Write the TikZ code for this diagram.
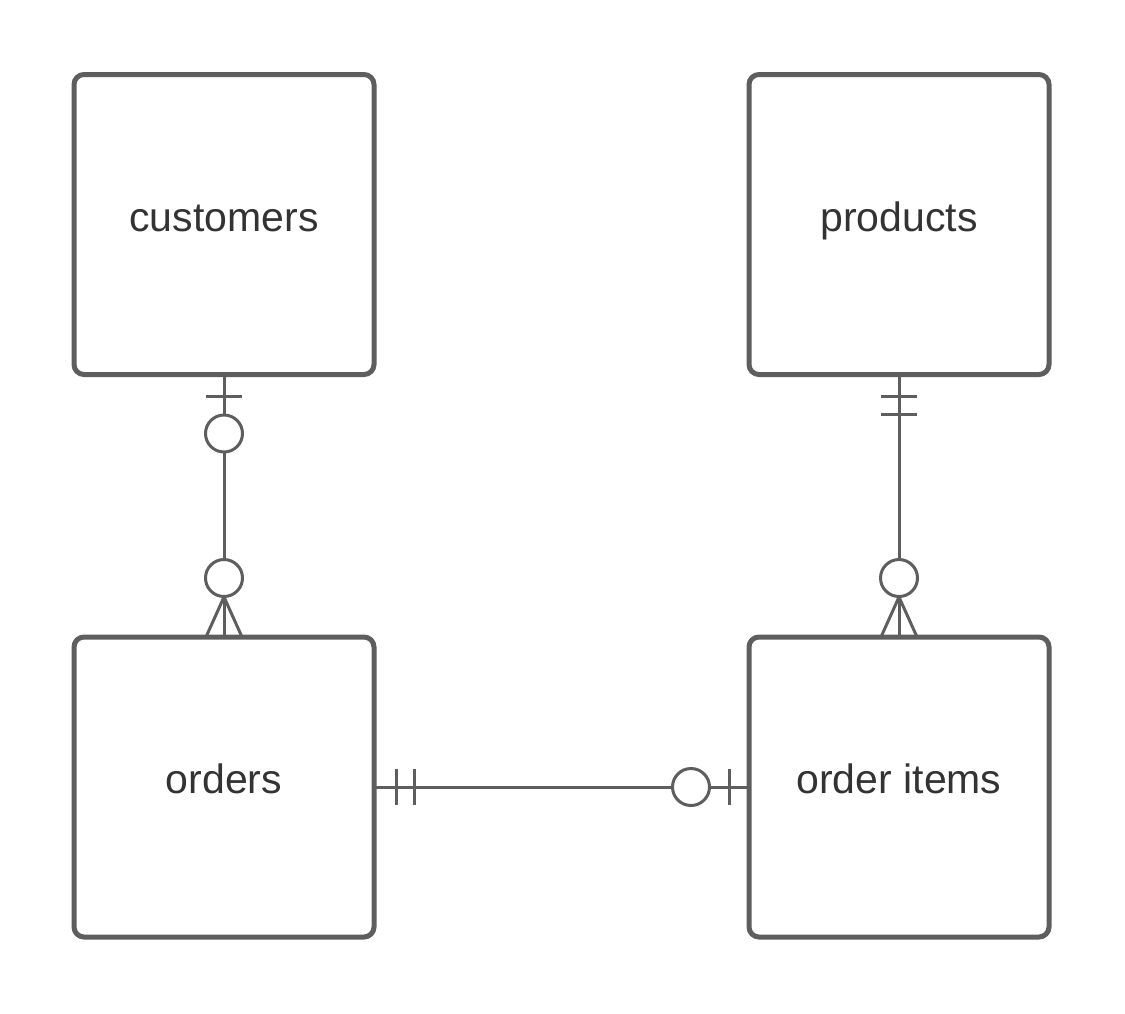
\documentclass[tikz,border=0pt]{standalone}
\usepackage{fontspec}
\setmainfont{Liberation Sans}
\usetikzlibrary{calc}
\definecolor{linegray}{HTML}{5E5E5E}
\definecolor{textgray}{HTML}{333333}
\begin{document}
\begin{tikzpicture}[x=1pt,y=-1pt,
  entity/.style={draw=linegray,line width=5pt,rounded corners=10pt,minimum width=300pt,minimum height=300pt,
    inner sep=0pt,outer sep=0pt,fill=white,text=textgray,font=\fontsize{41}{48}\selectfont,
    text height=18pt,text depth=5pt},
  conn/.style={draw=linegray,line width=3pt},
  ring/.style={draw=linegray,line width=3pt,fill=white}]
\useasboundingbox (0,0) rectangle (1125,1013);
\node[entity] (cust) at (224,224.5) {customers};
\node[entity] (prod) at (899,224.5) {products};
\node[entity] (ord) at (224,787) {orders};
\node[entity] (items) at (899,787) {order items};
% customers -- orders
\draw[conn] (cust.south) -- (ord.north);
\draw[conn] ($(cust.south)+(-18,22)$) -- ($(cust.south)+(18,22)$);
\draw[ring] ($(cust.south)+(0,59)$) circle[radius=18.5];
\draw[conn] ($(ord.north)+(0,-40)$) -- ($(ord.north)+(-18,0)$);
\draw[conn] ($(ord.north)+(0,-40)$) -- ($(ord.north)+(18,0)$);
\draw[ring] ($(ord.north)+(0,-59)$) circle[radius=18.5];
% products -- order items
\draw[conn] (prod.south) -- (items.north);
\draw[conn] ($(prod.south)+(-18,22)$) -- ($(prod.south)+(18,22)$);
\draw[conn] ($(prod.south)+(-18,40)$) -- ($(prod.south)+(18,40)$);
\draw[conn] ($(items.north)+(0,-40)$) -- ($(items.north)+(-18,0)$);
\draw[conn] ($(items.north)+(0,-40)$) -- ($(items.north)+(18,0)$);
\draw[ring] ($(items.north)+(0,-59)$) circle[radius=18.5];
% orders -- order items
\draw[conn] (ord.east) -- (items.west);
\draw[conn] ($(ord.east)+(22,-18)$) -- ($(ord.east)+(22,18)$);
\draw[conn] ($(ord.east)+(40,-18)$) -- ($(ord.east)+(40,18)$);
\draw[conn] ($(items.west)+(-20,-18)$) -- ($(items.west)+(-20,18)$);
\draw[ring] ($(items.west)+(-58,0)$) circle[radius=18.5];
\end{tikzpicture}
\end{document}
